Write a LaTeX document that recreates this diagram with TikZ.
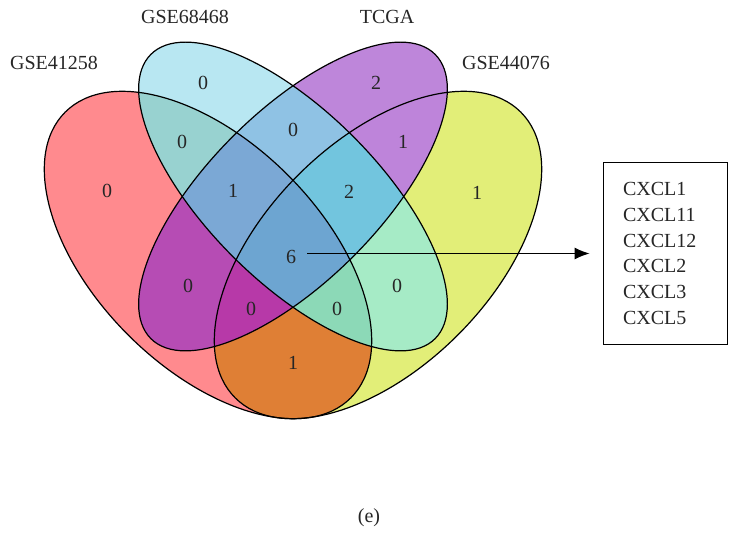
\documentclass[tikz,border=0pt]{standalone}
\usepackage{fontspec}
\setmainfont{Liberation Serif}
\usetikzlibrary{arrows.meta}
\definecolor{cA}{HTML}{FF8A8E}
\definecolor{cB}{HTML}{B8E7F2}
\definecolor{cC}{HTML}{BE86DA}
\definecolor{cD}{HTML}{E2EE78}
\definecolor{cAB}{HTML}{98D2D0}
\definecolor{cAC}{HTML}{B64CB4}
\definecolor{cAD}{HTML}{DF7F35}
\definecolor{cBC}{HTML}{8FC2E4}
\definecolor{cBD}{HTML}{A6EBC6}
\definecolor{cCD}{HTML}{BE84DA}
\definecolor{cABC}{HTML}{7BA8D5}
\definecolor{cABD}{HTML}{8CD9B7}
\definecolor{cACD}{HTML}{B739A8}
\definecolor{cBCD}{HTML}{72C5DE}
\definecolor{cABCD}{HTML}{6DA5D1}
\definecolor{txt}{HTML}{262626}
\newcommand*{\ellA}{[rotate around={-45:(208,255)}] (208,255) ellipse [x radius=202, y radius=113]}
\newcommand*{\ellB}{[rotate around={-45:(293,196.5)}] (293,196.5) ellipse [x radius=201, y radius=85]}
\newcommand*{\ellC}{[rotate around={45:(293,196.5)}] (293,196.5) ellipse [x radius=201, y radius=85]}
\newcommand*{\ellD}{[rotate around={45:(378,255)}] (378,255) ellipse [x radius=202, y radius=113]}

\begin{document}
\begin{tikzpicture}[x=0.5bp, y=-0.5bp, font=\fontsize{10bp}{12.9bp}\selectfont, text=txt,
    edge/.style={draw=black, line width=0.6bp},
    genebox/.style={draw=black, line width=0.5bp, text width=42bp, inner xsep=10bp, align=left, minimum height=90.5bp},
    arrow/.style={-{Latex[length=7.5bp,width=6bp]}, line width=0.5bp, shorten <=2.2bp, shorten >=6.5bp}]
    \useasboundingbox (0,0) rectangle (729,534);
    % single sets
    \fill[cA] \ellA;
    \fill[cB] \ellB;
    \fill[cC] \ellC;
    \fill[cD] \ellD;
    % pairs
    \begin{scope} \clip \ellA; \fill[cAB] \ellB; \end{scope}
    \begin{scope} \clip \ellA; \fill[cAC] \ellC; \end{scope}
    \begin{scope} \clip \ellA; \fill[cAD] \ellD; \end{scope}
    \begin{scope} \clip \ellB; \fill[cBC] \ellC; \end{scope}
    \begin{scope} \clip \ellB; \fill[cBD] \ellD; \end{scope}
    \begin{scope} \clip \ellC; \fill[cCD] \ellD; \end{scope}
    % triples
    \begin{scope} \clip \ellA; \clip \ellB; \fill[cABC] \ellC; \end{scope}
    \begin{scope} \clip \ellA; \clip \ellB; \fill[cABD] \ellD; \end{scope}
    \begin{scope} \clip \ellA; \clip \ellC; \fill[cACD] \ellD; \end{scope}
    \begin{scope} \clip \ellB; \clip \ellC; \fill[cBCD] \ellD; \end{scope}
    \begin{scope} \clip \ellA; \clip \ellB; \clip \ellC; \fill[cABCD] \ellD; \end{scope}
    % outlines
    \draw[edge] \ellA;
    \draw[edge] \ellB;
    \draw[edge] \ellC;
    \draw[edge] \ellD;
    % set names
    \node (labA) at (54,63)  {GSE41258};
    \node (labB) at (185,17) {GSE68468};
    \node (labC) at (387,17) {TCGA};
    \node (labD) at (506,63) {GSE44076};
    % counts
    \node (rA)    at (107,191) {0};
    \node (rB)    at (203,83)  {0};
    \node (rC)    at (376,83)  {2};
    \node (rD)    at (477,193) {1};
    \node (rAB)   at (182,142) {0};
    \node (rBC)   at (293,130) {0};
    \node (rCD)   at (403,142) {1};
    \node (rABC)  at (233,191) {1};
    \node (rBCD)  at (349,192) {2};
    \node (rABCD) at (291,257) {6};
    \node (rAC)   at (188,286) {0};
    \node (rACD)  at (251,309) {0};
    \node (rABD)  at (337,309) {0};
    \node (rBD)   at (397,286) {0};
    \node (rAD)   at (293,363) {1};
    % shared genes
    \node[genebox] (genes) at (665,253.5) {CXCL1\\CXCL11\\CXCL12\\CXCL2\\CXCL3\\CXCL5};
    \draw[arrow] (rABCD.east |- genes.west) -- (genes.west);
    \node (cap) at (369,518) {(e)};
\end{tikzpicture}
\end{document}
